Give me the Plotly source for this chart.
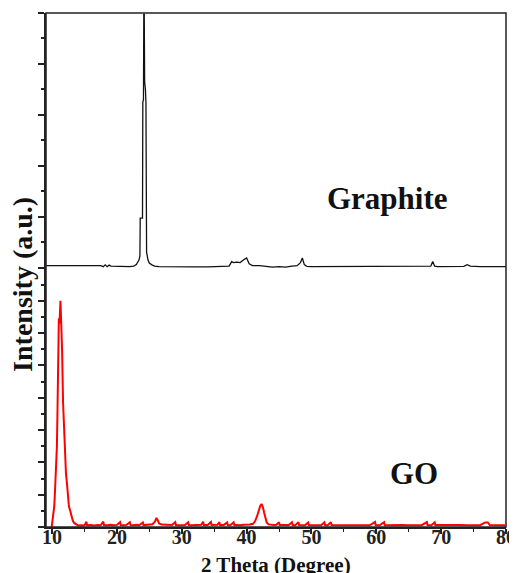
import plotly.graph_objects as go

# ---------------- data ----------------
graphite_theta = [9.1, 10, 12, 14, 16, 17.5, 17.9, 18.2, 18.5, 18.8, 19.1, 20, 21, 22, 22.6,
                  23.0, 23.4, 23.55, 23.6, 23.95, 24.0, 24.1, 24.15, 24.22, 24.28, 24.4, 24.48,
                  24.58, 24.8, 25.0, 25.4, 25.8, 26.5, 28, 30, 32, 34, 36, 37.3, 37.7, 38.0,
                  38.5, 39.0, 39.5, 40.0, 40.4, 40.9, 42, 43, 44, 45, 46, 47, 47.8, 48.3, 48.6,
                  48.9, 49.3, 50, 52, 54, 56, 58, 60, 62, 64, 66, 68, 68.4, 68.7, 69.0, 69.4,
                  70, 72, 73.5, 74.0, 74.5, 76, 78, 80]
graphite_int = [80, 80, 80, 80, 80, 80, 40, 110, 40, 100, 60, 50, 40, 40, 60,
                120, 300, 450, 1950, 1950, 6500, 6600, 9950, 9950, 7300, 7000, 6500,
                600, 300, 180, 110, 60, 40, 30, 30, 30, 30, 40, 60, 240, 200,
                220, 200, 300, 380, 150, 80, 80, 40, 20, 40, 20, 60, 80, 200, 380,
                120, 50, 40, 40, 40, 40, 40, 40, 40, 40, 40, 40, 60, 240, 60, 40,
                40, 40, 50, 120, 60, 40, 40, 40]

go_theta = [9.95, 10.0, 10.2, 10.35, 10.5, 10.6, 10.75, 10.85, 10.95, 11.05, 11.15, 11.3,
            11.45, 11.55, 11.7, 11.85, 12.0, 12.15, 12.3, 12.45, 12.6, 12.8, 13.0, 13.2,
            13.4, 13.7, 14.0, 14.5, 15.0, 15.3, 15.4, 16.0, 16.5, 17.0, 17.5, 17.9, 18.0,
            18.5, 19.0, 19.5, 20.0, 20.5, 20.6, 21.0, 21.5, 22.0, 22.1, 22.5, 23.0, 23.5,
            24.0, 24.1, 24.5, 25.0, 25.5, 25.9, 26.1, 26.3, 26.5, 26.9, 27.5, 28.0, 28.5,
            29.0, 29.1, 29.5, 30.0, 30.5, 31.0, 31.1, 31.5, 32.0, 32.5, 33.0, 33.3, 33.4,
            34.0, 34.5, 34.6, 35.0, 35.5, 35.8, 35.9, 36.5, 37.0, 37.1, 37.5, 38.0, 38.1,
            38.5, 39.0, 39.5, 40.0, 40.5, 41.0, 41.3, 41.6, 41.9, 42.1, 42.3, 42.5, 42.7,
            42.9, 43.1, 43.4, 43.8, 44.2, 44.6, 45.0, 45.1, 45.5, 46.0, 46.5, 47.0, 47.1,
            47.5, 48.0, 48.1, 48.5, 49.0, 49.5, 49.6, 50.0, 50.5, 51.0, 51.5, 52.0, 52.1,
            52.5, 53.0, 53.1, 54.0, 55.0, 56.0, 57.0, 58.0, 59.0, 59.8, 59.9, 60.5, 61.2,
            61.3, 62.0, 63.0, 64.0, 65.0, 66.0, 67.0, 67.8, 67.9, 68.5, 69.0, 69.1, 70.0,
            71.0, 72.0, 73.0, 74.0, 75.0, 76.0, 76.8, 77.0, 77.2, 77.5, 78.0, 79.0, 79.9]
go_int = [0, 150, 700, 1300, 2600, 3700, 5000, 7400, 9500, 12900, 12600, 14000,
          12200, 11000, 7700, 6000, 4300, 3300, 2700, 1600, 1300, 1000, 600, 400,
          250, 150, 100, 110, 100, 320, 110, 120, 100, 130, 110, 330, 120,
          110, 140, 110, 130, 300, 120, 110, 130, 290, 120, 110, 140, 120,
          280, 120, 130, 150, 170, 350, 560, 420, 220, 150, 130, 120, 130,
          300, 120, 110, 130, 120, 290, 120, 110, 130, 120, 140, 330, 120,
          130, 310, 120, 110, 140, 300, 120, 130, 280, 120, 110, 290, 120,
          130, 110, 140, 130, 150, 200, 350, 650, 1100, 1300, 1420, 1250, 900,
          500, 280, 160, 130, 120, 140, 300, 120, 110, 130, 120, 290, 120,
          110, 300, 120, 130, 110, 280, 120, 110, 120, 130, 110, 290, 120,
          110, 300, 120, 120, 110, 120, 110, 120, 110, 320, 120, 110, 300,
          110, 120, 110, 120, 110, 120, 110, 300, 120, 110, 290, 120, 110,
          120, 110, 120, 110, 120, 110, 280, 300, 280, 120, 110, 120, 110]

x_tick_vals = [10, 20, 30, 40, 50, 60, 70, 80]
x_tick_text = ["10", "20", "30", "40", "50", "60", "70", "80"]

FONT = "Liberation Serif"

fig = go.Figure()
fig.add_trace(go.Scatter(x=go_theta, y=go_int, mode="lines", xaxis="x", yaxis="y",
                         line=dict(color="#ff0000", width=2), showlegend=False))
fig.add_trace(go.Scatter(x=graphite_theta, y=graphite_int, mode="lines", xaxis="x", yaxis="y2",
                         line=dict(color="#111111", width=1.3), showlegend=False))

split = 0.4874
axis_common = dict(showgrid=False, zeroline=False, showline=True, linecolor="#222222",
                   linewidth=1.5, ticks="outside", ticklen=6, tickwidth=1.5,
                   tickcolor="#222222", showticklabels=False, automargin=False)

fig.update_layout(
    width=517, height=565,
    autosize=False,
    margin=dict(l=38, r=18.5, t=5, b=46, pad=0),
    paper_bgcolor="white", plot_bgcolor="white",
    xaxis=dict(range=[9.07, 80], anchor="y", showgrid=False, zeroline=False,
               showline=True, linecolor="#222222", linewidth=1.5, automargin=False,
               ticks="outside", ticklen=5, tickwidth=1.5, tickcolor="#222222",
               tickvals=x_tick_vals, ticktext=x_tick_text, ticklabelstandoff=-14,
               tickfont=dict(family=FONT, size=20, color="#222222", weight="bold"),
               minor=dict(dtick=5, tick0=0, ticks="outside", ticklen=3, tickwidth=1.2,
                          tickcolor="#222222", showgrid=False)),
    yaxis=dict(domain=[0, split], range=[0, 15500], anchor="x", tick0=0, dtick=2000,
               minor=dict(dtick=1000, tick0=0, ticks="outside", ticklen=3, tickwidth=1.5,
                          tickcolor="#222222", showgrid=False),
               **axis_common),
    yaxis2=dict(domain=[split, 1], range=[-345, 10000], anchor="x", tick0=0, dtick=2000,
                minor=dict(dtick=1000, tick0=0, ticks="outside", ticklen=3, tickwidth=1.5,
                           tickcolor="#222222", showgrid=False),
                **axis_common),
    shapes=[dict(type="rect", xref="paper", yref="paper", x0=0, x1=1, y0=0, y1=1,
                 line=dict(color="#222222", width=1.5), fillcolor="rgba(0,0,0,0)")],
    annotations=[
        dict(text="<b>Intensity (a.u.)</b>", xref="paper", yref="paper", x=-0.05, y=0.471,
             textangle=-90, showarrow=False, xanchor="center", yanchor="middle",
             font=dict(family=FONT, size=28, color="#111111")),
        dict(text="<b>2 Theta (Degree)</b>", xref="paper", yref="paper", x=0.5, y=-0.047,
             showarrow=False, xanchor="center", yanchor="top",
             font=dict(family=FONT, size=21, color="#111111")),
        dict(text="<b>Graphite</b>", xref="paper", yref="paper", x=0.742, y=0.640,
             showarrow=False, xanchor="center", yanchor="middle",
             font=dict(family=FONT, size=31, color="#111111")),
        dict(text="<b>GO</b>", xref="paper", yref="paper", x=0.800, y=0.105,
             showarrow=False, xanchor="center", yanchor="middle",
             font=dict(family=FONT, size=31, color="#111111")),
    ],
)

fig.write_html("out.html", post_script=(
    "document.documentElement.style.overflow='hidden';"
    "document.body.style.overflow='hidden';"))
